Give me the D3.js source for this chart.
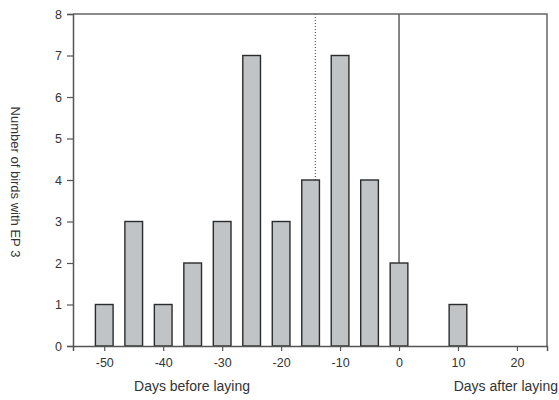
<!DOCTYPE html>
<html>
<head>
<meta charset="UTF-8" />
<title>EP 3 histogram</title>
<script src="https://d3js.org/d3.v7.min.js"></script>
<style>
body { margin: 0; background: white; }
text { font-family: "Liberation Sans", Arial, sans-serif; fill: #333; }
</style>
</head>
<body>
<svg id="chart" width="559" height="400"></svg>
<script>
// data
var days = [-50, -45, -40, -35, -30, -25, -20, -15, -10, -5, 0, 5, 10];
var birds = [1, 3, 1, 2, 3, 7, 3, 4, 7, 4, 2, 0, 1];
var xTicks = [-50, -40, -30, -20, -10, 0, 10, 20];
var yTicks = [0, 1, 2, 3, 4, 5, 6, 7, 8];
var dottedDay = -14.2;   // dotted reference line
var solidDay = 0;        // laying day
var barWidthDays = 3;

var svg = d3.select("#chart");
// note: "top" is reserved on window, so use plot* names
var plotLeft = 73, plotRight = 547, plotTop = 14, plotBottom = 346;

var x = d3.scaleLinear().domain([-55.3, 25.1]).range([plotLeft, plotRight]);
var y = d3.scaleLinear().domain([0, 8]).range([plotBottom, plotTop]);

// reference lines (behind bars)
svg.append("line")
    .attr("x1", x(dottedDay)).attr("x2", x(dottedDay))
    .attr("y1", y(8)).attr("y2", y(0))
    .attr("stroke", "#444").attr("stroke-width", 1)
    .attr("stroke-dasharray", "1,2");
svg.append("line")
    .attr("x1", x(solidDay)).attr("x2", x(solidDay))
    .attr("y1", y(8)).attr("y2", y(0))
    .attr("stroke", "#444").attr("stroke-width", 1.3);

// bars
var data = days.map(function(d, i) { return { day: d, n: birds[i] }; })
    .filter(function(d) { return d.n > 0; });
svg.append("g").selectAll("rect").data(data).enter()
    .append("rect")
    .attr("x", function(d) { return x(d.day - barWidthDays / 2); })
    .attr("width", function(d) { return x(d.day + barWidthDays / 2) - x(d.day - barWidthDays / 2); })
    .attr("y", function(d) { return y(d.n); })
    .attr("height", function(d) { return y(0) - y(d.n); })
    .attr("fill", "#c0c4c6")
    .attr("stroke", "#2b2b2b")
    .attr("stroke-width", 1.4);

// frame top and right
svg.append("path")
    .attr("d", "M" + plotLeft + "," + plotTop + "H" + plotRight + "V" + plotBottom)
    .attr("fill", "none").attr("stroke", "#666").attr("stroke-width", 1.5);

// axes (plain hyphen for negatives, like the figure)
var yAxis = svg.append("g").attr("transform", "translate(" + plotLeft + ",0)")
    .call(d3.axisLeft(y).tickValues(yTicks).tickSize(6).tickPadding(5).tickFormat(String));
var xAxis = svg.append("g").attr("transform", "translate(0," + plotBottom + ")")
    .call(d3.axisBottom(x).tickValues(xTicks).tickSize(5).tickPadding(7).tickFormat(String));

[yAxis, xAxis].forEach(function(a) {
    a.select(".domain").attr("stroke", "#555").attr("stroke-width", 1.5);
    a.selectAll(".tick line").attr("stroke", "#555").attr("stroke-width", 1.2);
    a.selectAll(".tick text").style("font-size", "12.5px").attr("fill", "#333")
        .style("font-family", "'Liberation Sans', Arial, sans-serif");
});

// axis titles
svg.append("text")
    .attr("transform", "translate(11,182) rotate(90)")
    .attr("text-anchor", "middle")
    .style("font-size", "13px")
    .text("Number of birds with EP 3");

svg.append("text")
    .attr("x", 192).attr("y", 391)
    .attr("text-anchor", "middle")
    .style("font-size", "14px")
    .text("Days before laying");

svg.append("text")
    .attr("x", 558).attr("y", 391)
    .attr("text-anchor", "end")
    .style("font-size", "14px")
    .text("Days after laying");
</script>
</body>
</html>
